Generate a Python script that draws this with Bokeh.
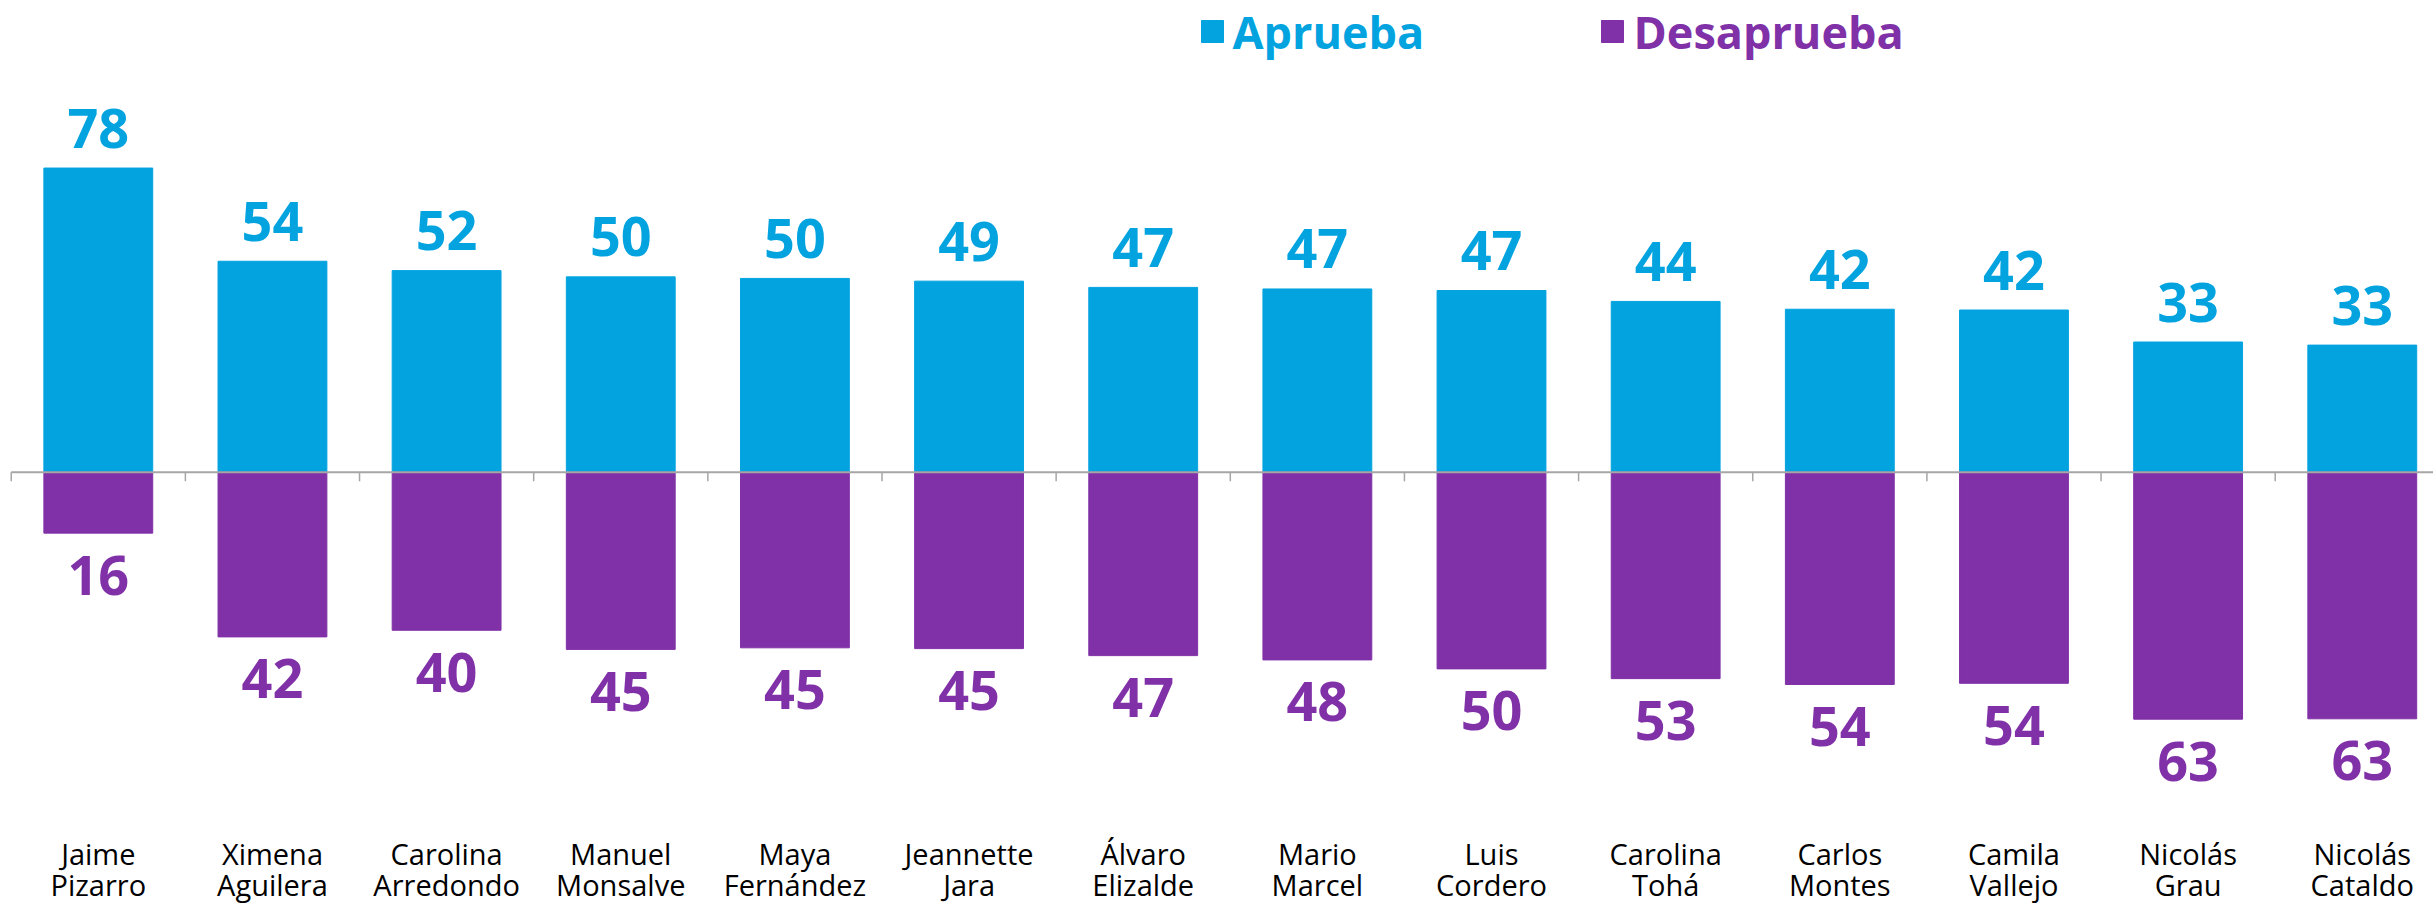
from bokeh.plotting import figure
from bokeh.models import ColumnDataSource, Range1d
from bokeh.core.properties import value
from bokeh.embed import file_html
from bokeh.resources import INLINE

# ---------------- data ----------------
first_names = ["Jaime", "Ximena", "Carolina", "Manuel", "Maya", "Jeannette", "Álvaro",
               "Mario", "Luis", "Carolina", "Carlos", "Camila", "Nicolás", "Nicolás"]
last_names = ["Pizarro", "Aguilera", "Arredondo", "Monsalve", "Fernández", "Jara", "Elizalde",
              "Marcel", "Cordero", "Tohá", "Montes", "Vallejo", "Grau", "Cataldo"]
aprueba = [78.0, 54.1, 51.7, 50.1, 49.7, 49.0, 47.4, 47.0, 46.6, 43.8, 41.8, 41.6, 33.4, 32.6]
desaprueba = [15.6, 42.2, 40.5, 45.4, 45.0, 45.2, 47.0, 48.1, 50.4, 52.9, 54.4, 54.1, 63.3, 63.2]
series_names = ["Aprueba", "Desaprueba"]

BLUE = "#03A3E0"
PURPLE = "#8031A7"
FONT = "Open Sans"

W, H = 2433, 911
X0, X1 = -0.5616, 13.409
Y0, Y1 = -112.6, 120.95
px_per_unit_y = H / (Y1 - Y0)

def px2x(px):
    return X0 + px / W * (X1 - X0)

def py2y(py):
    return Y1 - py / H * (Y1 - Y0)

n = len(first_names)
xs = list(range(n))
src = ColumnDataSource(dict(
    x=xs,
    first=first_names,
    last=last_names,
    a=aprueba,
    d=[-v for v in desaprueba],
    a_lbl=[str(round(v)) for v in aprueba],
    d_lbl=[str(round(v)) for v in desaprueba],
))

p = figure(width=W, height=H, output_backend="svg", toolbar_location=None,
           x_range=Range1d(X0, X1), y_range=Range1d(Y0, Y1),
           min_border=0, min_border_left=0, min_border_right=0,
           min_border_top=0, min_border_bottom=0)
p.axis.visible = False
p.grid.visible = False
p.outline_line_color = None
p.background_fill_color = "white"
p.border_fill_color = "white"

# bars
p.vbar(x="x", top="a", bottom=0, width=0.625, color=BLUE, source=src)
p.vbar(x="x", top=0, bottom="d", width=0.625, color=PURPLE, source=src)

# zero axis line with ticks at category boundaries
bounds = [i - 0.5 for i in range(n + 1)]
p.segment(x0=[-0.5], y0=[0], x1=[X1 + 1], y1=[0], line_color="#A6A6A6", line_width=2)
tick_len = 9 / px_per_unit_y
p.segment(x0=bounds, y0=[0] * len(bounds), x1=bounds, y1=[-tick_len] * len(bounds),
          line_color="#A6A6A6", line_width=1.5)

# value labels
p.text(x="x", y="a", text="a_lbl", source=src, text_align="center", text_baseline="middle",
       y_offset=-40, text_font=value(FONT), text_font_style="bold",
       text_font_size="54px", text_color=BLUE)
p.text(x="x", y="d", text="d_lbl", source=src, text_align="center", text_baseline="middle",
       y_offset=42, text_font=value(FONT), text_font_style="bold",
       text_font_size="54px", text_color=PURPLE)

# category labels (two lines)
p.text(x="x", y=0, text="first", source=src, text_align="center", text_baseline="middle",
       y_offset=381, text_font=value(FONT), text_font_size="29px", text_color="black")
p.text(x="x", y=0, text="last", source=src, text_align="center", text_baseline="middle",
       y_offset=412, text_font=value(FONT), text_font_size="29px", text_color="black")

# legend (manual)
leg_y = py2y(31)
p.scatter(x=[px2x(1212), px2x(1612)], y=[leg_y, leg_y], marker="square", size=22,
          color=[BLUE, PURPLE])
p.text(x=[px2x(1232)], y=[leg_y], text=[series_names[0]], text_align="left",
       text_baseline="middle", text_font=value(FONT), text_font_style="bold",
       text_font_size="45px", text_color=BLUE)
p.text(x=[px2x(1633)], y=[leg_y], text=[series_names[1]], text_align="left",
       text_baseline="middle", text_font=value(FONT), text_font_style="bold",
       text_font_size="45px", text_color=PURPLE)

open("out.html", "w").write(file_html(p, INLINE))
